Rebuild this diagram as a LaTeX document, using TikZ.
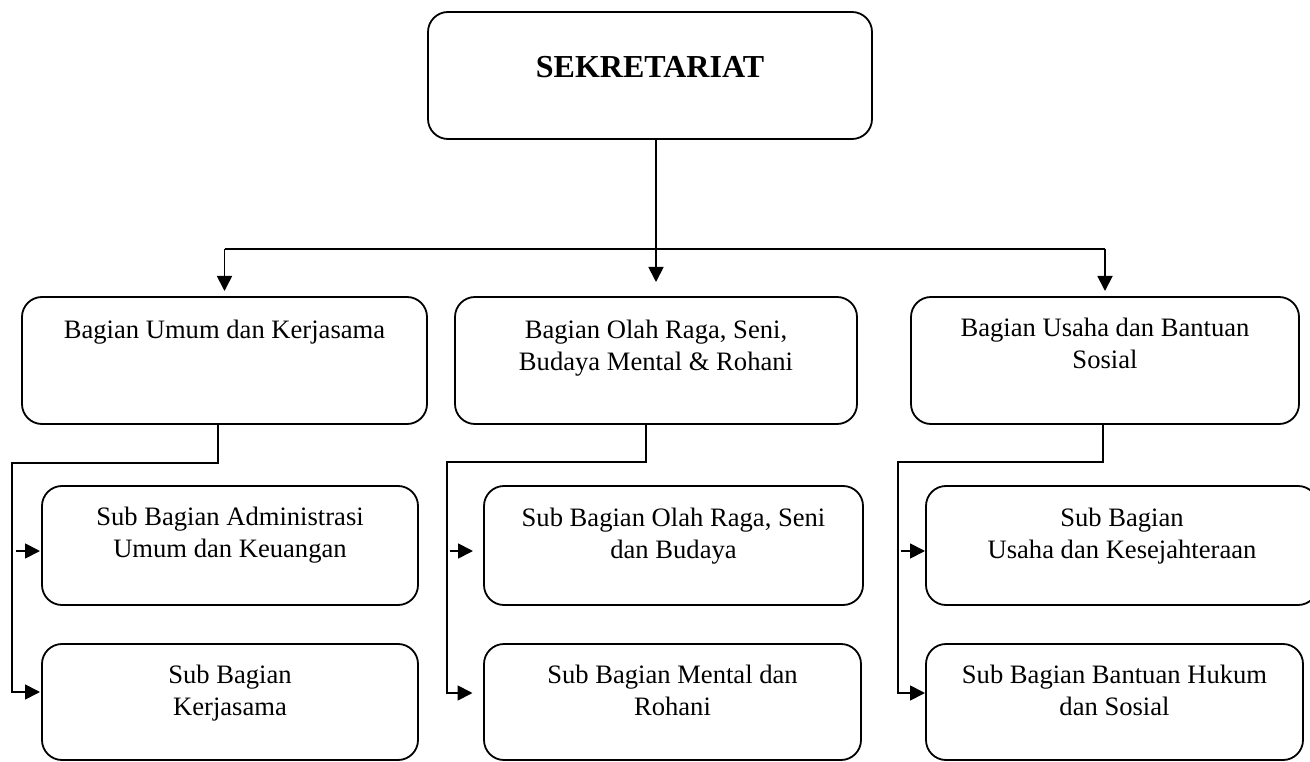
\documentclass[tikz,border=0pt]{standalone}
\usepackage{fontspec}
\setmainfont{Liberation Serif}
\usetikzlibrary{arrows.meta}
\newcommand{\twolines}[2]{\vtop{\halign{\hfil##\hfil\cr #1\cr #2\cr}}}
\begin{document}
\begin{tikzpicture}[x=1pt,y=-1pt,
  box/.style={draw, line width=1.8pt, rounded corners=20pt, inner sep=0pt, outer sep=0pt},
  lbl/.style={anchor=base, inner sep=0pt, font=\fontsize{26.6}{32}\selectfont},
  link/.style={line width=1.8pt},
  arr/.style={line width=1.8pt, -{Triangle[length=15pt,width=15pt]}}]
\useasboundingbox (0,0) rectangle (1310,762);

% boxes
\node[box, minimum width=444pt, minimum height=127pt] (sek) at (650,75.5) {};
\node[box, minimum width=405pt, minimum height=127pt] (b1) at (224.5,360.5) {};
\node[box, minimum width=402pt, minimum height=127pt] (b2) at (656,360.5) {};
\node[box, minimum width=388pt, minimum height=127pt] (b3) at (1105,360.5) {};
\node[box, minimum width=376pt, minimum height=119pt] (s11) at (230,545.5) {};
\node[box, minimum width=376pt, minimum height=116pt] (s12) at (230,702) {};
\node[box, minimum width=379pt, minimum height=119pt] (s21) at (673.5,545.5) {};
\node[box, minimum width=377pt, minimum height=116pt] (s22) at (672.5,702) {};
\node[box, minimum width=392pt, minimum height=119pt] (s31) at (1122,545.5) {};
\node[box, minimum width=377pt, minimum height=116pt] (s32) at (1114.5,702) {};

% texts
\node[lbl, font=\fontsize{32}{38}\selectfont\bfseries] (tsek) at ([yshift=-66pt]sek.north) {SEKRETARIAT};
\node[lbl] (tb1) at ([yshift=-41pt]b1.north) {Bagian Umum dan Kerjasama};
\node[lbl] (tb2) at ([yshift=-41pt]b2.north) {\twolines{Bagian Olah Raga, Seni,}{Budaya Mental \& Rohani}};
\node[lbl] (tb3) at ([yshift=-40pt]b3.north) {\twolines{Bagian Usaha dan Bantuan}{Sosial}};
\node[lbl] (ts11) at ([yshift=-39pt]s11.north) {\twolines{Sub Bagian Administrasi}{Umum dan Keuangan}};
\node[lbl] (ts12) at ([yshift=-39pt]s12.north) {\twolines{Sub Bagian}{Kerjasama}};
\node[lbl] (ts21) at ([yshift=-40pt]s21.north) {\twolines{Sub Bagian Olah Raga, Seni}{dan Budaya}};
\node[lbl] (ts22) at ([yshift=-39pt]s22.north) {\twolines{Sub Bagian Mental dan}{Rohani}};
\node[lbl] (ts31) at ([yshift=-40pt]s31.north) {\twolines{Sub Bagian}{Usaha dan Kesejahteraan}};
\node[lbl] (ts32) at ([yshift=-39pt]s32.north) {\twolines{Sub Bagian Bantuan Hukum}{dan Sosial}};

% top connectors
\coordinate (bar) at (655,249);
\draw[link] (b1.north |- bar) -- (b3.north |- bar);
\draw[arr] (b2.north |- sek.south) -- ([yshift=15pt]b2.north);
\draw[arr] (b1.north |- bar) -- ([yshift=6pt]b1.north);
\draw[arr] (b3.north |- bar) -- ([yshift=6pt]b3.north);

% column 1
\coordinate (k1) at (12,463);
\coordinate (a11) at ([yshift=-5.5pt]s11.west);
\coordinate (a12) at ([yshift=10pt]s12.west);
\coordinate (a11s) at (k1 |- a11);
\draw[arr] ([xshift=-6.5pt]b1.south) |- (k1) |- ([xshift=-2pt]a12);
\draw[arr] ([xshift=3.5pt]a11s) -- ([xshift=-2pt]a11);

% column 2
\coordinate (k2) at (447,462);
\coordinate (a21) at ([yshift=-5.5pt]s21.west);
\coordinate (a22) at ([yshift=9pt]s22.west);
\coordinate (a21s) at (k2 |- a21);
\draw[arr] ([xshift=-10pt]b2.south) |- (k2) |- ([xshift=-11.5pt]a22);
\draw[arr] ([xshift=3pt]a21s) -- ([xshift=-11pt]a21);

% column 3
\coordinate (k3) at (898,462);
\coordinate (a31) at ([yshift=-5.5pt]s31.west);
\coordinate (a32) at ([yshift=9pt]s32.west);
\coordinate (a31s) at (k3 |- a31);
\draw[arr] ([xshift=-2pt]b3.south) |- (k3) |- ([xshift=-1pt]a32);
\draw[arr] ([xshift=3pt]a31s) -- ([xshift=-1pt]a31);
\end{tikzpicture}
\end{document}
